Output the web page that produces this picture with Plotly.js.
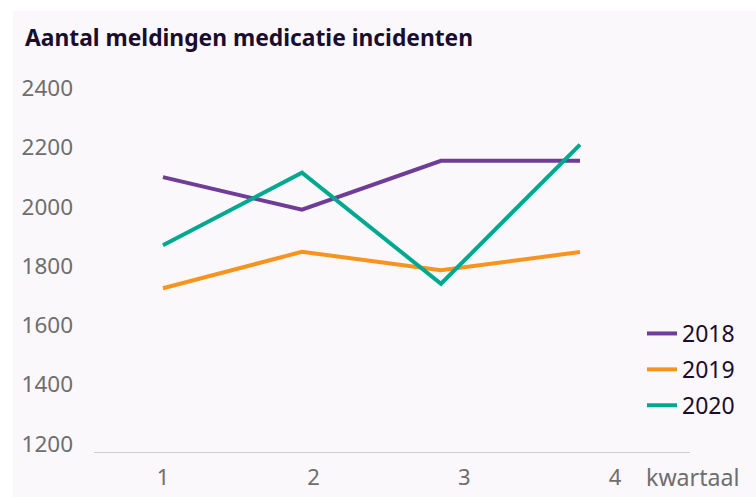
<!DOCTYPE html>
<html>
<head>
<meta charset="utf-8">
<script src="https://cdn.plot.ly/plotly-3.0.1.min.js"></script>
<style>
html,body{margin:0;padding:0;background:#ffffff;width:756px;height:497px;overflow:hidden;}
#chart{position:absolute;left:13px;top:11px;width:743px;height:486px;}
</style>
</head>
<body>
<div id="chart"></div>
<script>
const quarters = [1, 2, 3, 4];
const quarterLabels = ['1', '2', '3', '4'];
const series2018 = [2100, 1990, 2155, 2155];
const series2019 = [1725, 1848, 1786, 1847];
const series2020 = [1870, 2115, 1740, 2210];
const yTicks = [1200, 1400, 1600, 1800, 2000, 2200, 2400];

const FONT = 'Noto Sans, Open Sans, sans-serif';
const DARK = '#1b0d2e';
const GREY = '#6e6e6e';
const BG = '#faf8fb';

function mk(name, y, color, grp) {
  return {
    type: 'scatter', mode: 'lines', name: name, x: quarters, y: y,
    xaxis: 'x', yaxis: 'y', legendgroup: grp,
    line: {color: color, width: 4}, hoverinfo: 'skip'
  };
}

const data = [
  mk('2018', series2018, '#6f3d97', 'a'),
  mk('2019', series2019, '#f7941e', 'b'),
  mk('2020', series2020, '#00a88f', 'c'),
  {type: 'scatter', mode: 'lines', x: quarters, y: [null, null, null, null],
   xaxis: 'x2', yaxis: 'y', showlegend: false, hoverinfo: 'skip'}
];

const layout = {
  width: 743, height: 486,
  paper_bgcolor: BG, plot_bgcolor: BG,
  margin: {l: 81, r: 66, t: 69, b: 45, autoexpand: false},
  font: {family: FONT, color: GREY, size: 22},
  showlegend: true,
  title: {
    text: '<b>Aantal meldingen medicatie incidenten</b>',
    font: {family: FONT, size: 22.8, color: DARK},
    xref: 'container', yref: 'container',
    x: 12 / 743, xanchor: 'left',
    y: 1 - 27 / 486, yanchor: 'middle'
  },
  xaxis: {
    visible: false, range: [0.504, 4.791], fixedrange: true
  },
  xaxis2: {
    overlaying: 'x', anchor: 'y', side: 'bottom',
    range: [0.542, 4.498],
    tickmode: 'array', tickvals: quarters, ticktext: quarterLabels,
    showgrid: false, zeroline: false,
    showline: true, linecolor: '#cfcfcf', linewidth: 1.3,
    ticks: '', tickfont: {size: 22, color: GREY, family: FONT},
    ticklabelstandoff: 5
  },
  yaxis: {
    range: [1172, 2428],
    tickmode: 'array', tickvals: yTicks,
    showgrid: false, zeroline: false, showline: false,
    ticks: '', tickfont: {size: 22.5, color: GREY, family: FONT},
    ticklabelstandoff: 20
  },
  legend: {
    x: (652 - 13 - 10) / 743, xref: 'container', xanchor: 'left',
    y: 1 - (312 - 11) / 486, yref: 'container', yanchor: 'top',
    bgcolor: 'rgba(0,0,0,0)',
    font: {family: FONT, size: 23, color: DARK},
    traceorder: 'grouped', tracegroupgap: 3
  },
  annotations: [{
    text: 'kwartaal', showarrow: false,
    xref: 'paper', yref: 'paper',
    x: (644 - 94) / 596, xanchor: 'left',
    y: -(477 - 452) / 372, yanchor: 'middle',
    font: {family: FONT, size: 23.2, color: GREY}
  }]
};

Plotly.newPlot('chart', data, layout, {displayModeBar: false, staticPlot: true});
</script>
</body>
</html>
